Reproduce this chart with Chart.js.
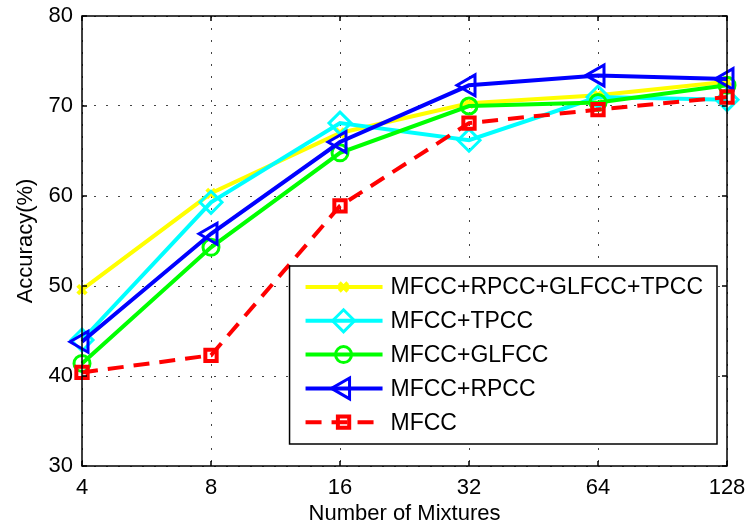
<!DOCTYPE html>
<html>
<head>
<meta charset="utf-8">
<script src="https://cdn.jsdelivr.net/npm/chart.js@4"></script>
<style>
  html, body { margin: 0; padding: 0; background: #fff; }
  #wrap { width: 746px; height: 527px; position: relative; }
</style>
</head>
<body>
<div id="wrap"><canvas id="grafico"></canvas></div>
<script>
// Exactitud por número de mezclas, estilo figura de MATLAB.

const MEZCLAS = ["4", "8", "16", "32", "64", "128"];

const ETIQUETAS = ["MFCC+RPCC+GLFCC+TPCC", "MFCC+TPCC", "MFCC+GLFCC", "MFCC+RPCC", "MFCC"];

const TODOS = [49.6, 60.3, 67.0, 70.3, 71.2, 72.7];
const TPCC = [44.0, 59.3, 68.1, 66.2, 71.0, 70.7];
const GLFCC = [41.4, 54.3, 64.8, 70.0, 70.4, 72.3];
const RPCC = [43.8, 55.8, 66.0, 72.3, 73.4, 73.0];
const MFCC = [40.4, 42.3, 58.9, 68.1, 69.6, 71.0];

const Y_TICKS = [30, 40, 50, 60, 70, 80];

const FUENTE = "'Liberation Sans', Arial, sans-serif";

function serie(label, data, color, estilo, radio, extra) {
  return Object.assign({
    label: label,
    data: data,
    borderColor: color,
    backgroundColor: color,
    borderWidth: 4,
    pointStyle: estilo,
    pointRadius: radio,
    pointHoverRadius: radio,
    pointBorderColor: color,
    pointBackgroundColor: "rgba(0,0,0,0)",
    pointBorderWidth: 3,
    tension: 0,
    fill: false,
  }, extra || {});
}

// caja, ticks interiores y leyenda dentro del área
const cajaMatlab = {
  id: "cajaMatlab",
  afterDatasetsDraw(chart) {
    const { ctx, chartArea: a, scales } = chart;
    ctx.save();
    ctx.strokeStyle = "#000";
    ctx.lineWidth = 1.5;
    ctx.beginPath();
    scales.y.ticks.forEach((t, i) => {
      const py = scales.y.getPixelForTick(i);
      ctx.moveTo(a.left, py); ctx.lineTo(a.left + 5, py);
      ctx.moveTo(a.right, py); ctx.lineTo(a.right - 5, py);
    });
    scales.x.ticks.forEach((t, i) => {
      const px = scales.x.getPixelForTick(i);
      ctx.moveTo(px, a.bottom); ctx.lineTo(px, a.bottom - 5);
      ctx.moveTo(px, a.top); ctx.lineTo(px, a.top + 5);
    });
    ctx.stroke();
    ctx.strokeRect(a.left, a.top, a.right - a.left, a.bottom - a.top);

    // leyenda
    const filas = chart.data.datasets;
    ctx.font = "23px " + FUENTE;
    const anchoTexto = Math.max(...filas.map(d => ctx.measureText(d.label).width));
    const w = 101 + anchoTexto + 14;
    const h = 178;
    const x0 = a.right - 10 - w;
    const y0 = a.bottom - 22 - h;
    ctx.fillStyle = "#fff";
    ctx.fillRect(x0, y0, w, h);
    ctx.lineWidth = 1.5;
    ctx.strokeStyle = "#000";
    ctx.strokeRect(x0, y0, w, h);
    filas.forEach((d, i) => {
      const cy = y0 + 21 + i * 33.8;
      ctx.save();
      ctx.strokeStyle = d.borderColor;
      ctx.lineWidth = d.borderWidth;
      ctx.setLineDash(d.borderDash || []);
      ctx.beginPath();
      ctx.moveTo(x0 + 16, cy);
      ctx.lineTo(x0 + 93, cy);
      ctx.stroke();
      ctx.restore();
      ctx.save();
      ctx.strokeStyle = d.pointBorderColor;
      ctx.fillStyle = d.pointBackgroundColor;
      ctx.lineWidth = d.pointBorderWidth;
      Chart.helpers.drawPoint(ctx, {
        pointStyle: d.pointStyle,
        radius: d.pointRadius,
        rotation: d.pointRotation || 0,
        borderWidth: d.pointBorderWidth,
      }, x0 + 54, cy);
      ctx.restore();
      ctx.fillStyle = "#000";
      ctx.textBaseline = "middle";
      ctx.textAlign = "left";
      ctx.fillText(d.label, x0 + 101, cy + 1);
    });
    ctx.restore();
  },
};

new Chart(document.getElementById("grafico"), {
  type: "line",
  data: {
    labels: MEZCLAS,
    datasets: [
      serie(ETIQUETAS[0], TODOS, "#ffff00", "crossRot", 6, { order: 5, pointBorderWidth: 4 }),
      serie(ETIQUETAS[1], TPCC, "#00ffff", "rectRot", 11, { order: 4 }),
      serie(ETIQUETAS[2], GLFCC, "#00ff00", "circle", 8, { order: 3 }),
      serie(ETIQUETAS[3], RPCC, "#0000ff", "triangle", 12, { order: 2, pointRotation: -90 }),
      serie(ETIQUETAS[4], MFCC, "#ff0000", "rect", 8, { order: 1, borderDash: [16, 10], pointBorderWidth: 4 }),
    ],
  },
  options: {
    responsive: true,
    maintainAspectRatio: false,
    animation: false,
    layout: { padding: { top: 16, right: 19, left: 0, bottom: 0 } },
    plugins: { legend: { display: false }, tooltip: { enabled: false } },
    scales: {
      x: {
        offset: false,
        grid: { color: "#444", lineWidth: 1, drawTicks: false },
        border: { display: false, dash: [2, 10] },
        ticks: { color: "#000", font: { family: FUENTE, size: 22 }, padding: 9, maxRotation: 0 },
        title: { display: true, text: "Number of Mixtures", color: "#000", font: { family: FUENTE, size: 22 }, padding: { top: 0, bottom: 0 } },
        afterFit(s) { s.height = 61; s.paddingLeft = 0; s.paddingRight = 0; },
      },
      y: {
        min: 30,
        max: 80,
        afterBuildTicks(s) { s.ticks = Y_TICKS.map(v => ({ value: v })); },
        grid: { color: "#444", lineWidth: 1, drawTicks: false },
        border: { display: false, dash: [2, 10] },
        ticks: { color: "#000", font: { family: FUENTE, size: 22 }, padding: 9 },
        title: { display: true, text: "Accuracy(%)", color: "#000", font: { family: FUENTE, size: 22 }, padding: { top: 13, bottom: 0 } },
        afterFit(s) { s.width = 82; s.paddingTop = 0; s.paddingBottom = 0; },
      },
    },
  },
  plugins: [cajaMatlab],
});
</script>
</body>
</html>
